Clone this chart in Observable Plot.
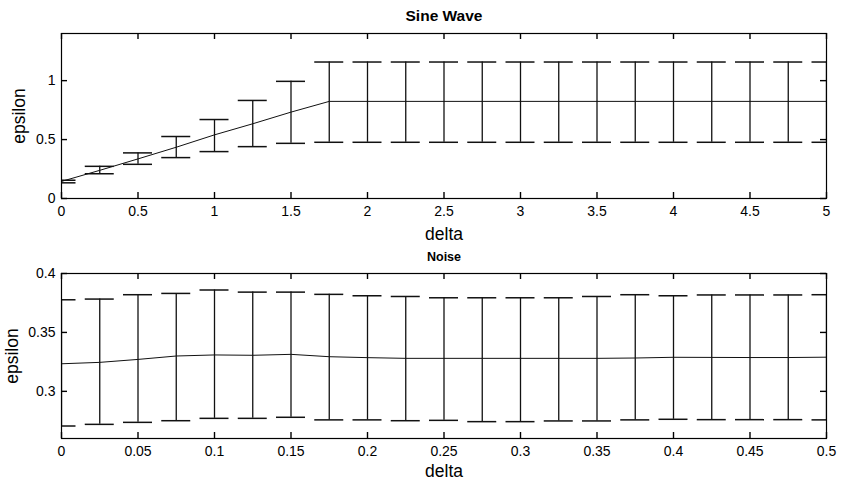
<!DOCTYPE html>
<html>
<head>
<meta charset="utf-8">
<script src="https://cdn.jsdelivr.net/npm/d3@7"></script>
<script src="https://cdn.jsdelivr.net/npm/@observablehq/plot@0.6"></script>
<style>
  html, body { margin: 0; padding: 0; background: #fff; }
  #chart svg { display: block; }
</style>
</head>
<body>
<div id="chart"></div>
<script>
// ---- Top panel: Sine Wave ----
const sineDelta = [0, 0.25, 0.5, 0.75, 1, 1.25, 1.5, 1.75, 2, 2.25, 2.5, 2.75, 3, 3.25, 3.5, 3.75, 4, 4.25, 4.5, 4.75, 5];
const sineMean  = [0.145, 0.239, 0.336, 0.435, 0.540, 0.634, 0.733, 0.824, 0.824, 0.824, 0.824, 0.824, 0.824, 0.824, 0.824, 0.824, 0.824, 0.824, 0.824, 0.824, 0.824];
const sineLow   = [0.133, 0.210, 0.290, 0.347, 0.398, 0.440, 0.468, 0.477, 0.477, 0.477, 0.477, 0.477, 0.477, 0.477, 0.477, 0.477, 0.477, 0.477, 0.477, 0.477, 0.477];
const sineHigh  = [0.155, 0.273, 0.387, 0.526, 0.670, 0.832, 0.994, 1.158, 1.158, 1.158, 1.158, 1.158, 1.158, 1.158, 1.158, 1.158, 1.158, 1.158, 1.158, 1.158, 1.158];
const sineXTicks = [0, 0.5, 1, 1.5, 2, 2.5, 3, 3.5, 4, 4.5, 5];
const sineYTicks = [0, 0.5, 1];

// ---- Bottom panel: Noise ----
const noiseDelta = [0, 0.025, 0.05, 0.075, 0.1, 0.125, 0.15, 0.175, 0.2, 0.225, 0.25, 0.275, 0.3, 0.325, 0.35, 0.375, 0.4, 0.425, 0.45, 0.475, 0.5];
const noiseMean  = [0.3234, 0.3246, 0.3271, 0.3300, 0.3309, 0.3306, 0.3314, 0.3294, 0.3286, 0.3280, 0.3280, 0.3280, 0.3280, 0.3280, 0.3280, 0.3283, 0.3289, 0.3288, 0.3287, 0.3287, 0.3290];
const noiseLow   = [0.2706, 0.2720, 0.2737, 0.2751, 0.2771, 0.2771, 0.2780, 0.2758, 0.2758, 0.2751, 0.2754, 0.2743, 0.2743, 0.2749, 0.2749, 0.2758, 0.2763, 0.2760, 0.2760, 0.2760, 0.2758];
const noiseHigh  = [0.3777, 0.3783, 0.3820, 0.3831, 0.3860, 0.3842, 0.3842, 0.3823, 0.3811, 0.3805, 0.3794, 0.3794, 0.3794, 0.3794, 0.3805, 0.3820, 0.3811, 0.3818, 0.3818, 0.3818, 0.3820];
const noiseXTicks = [0, 0.05, 0.1, 0.15, 0.2, 0.25, 0.3, 0.35, 0.4, 0.45, 0.5];
const noiseYTicks = [0.3, 0.35, 0.4];

const W = 841, ML = 61, MR = 15;
const FONT = "'Liberation Sans', Arial, Helvetica, sans-serif";
const INK = "#111";
const TICK = 6;

function panel(o) {
  const data = o.xs.map((x, i) => ({x, m: o.mean[i], lo: o.lo[i], hi: o.hi[i]}));
  const pw = W - ML - MR;
  const ph = o.height - o.marginTop - o.marginBottom;
  const [xa, xb] = o.xDomain, [ya, yb] = o.yDomain;
  const capHalf = 14.5 * (xb - xa) / pw;
  const tx = TICK * (xb - xa) / pw;   // tick length in x units
  const ty = TICK * (yb - ya) / ph;   // tick length in y units
  const tickStyle = {stroke: "#000", strokeWidth: 1.4};
  const xt = o.xTicks.map(v => ({v, a: ya, b: ya + ty, c: yb - ty, d: yb}));
  const yt = o.yTicks.map(v => ({v, a: xa, b: xa + tx, c: xb - tx, d: xb}));
  return Plot.plot({
    width: W, height: o.height,
    marginLeft: ML, marginRight: MR, marginTop: o.marginTop, marginBottom: o.marginBottom,
    style: {fontFamily: FONT, fontSize: "14px", color: "#000", background: "#fff", overflow: "visible"},
    x: {domain: o.xDomain, label: null},
    y: {domain: o.yDomain, label: null},
    marks: [
      Plot.ruleX(data, {x: "x", y1: "lo", y2: "hi", stroke: INK, strokeWidth: 1.3, clip: true}),
      Plot.ruleY(data, {y: "hi", x1: d => d.x - capHalf, x2: d => d.x + capHalf, stroke: INK, strokeWidth: 1.5, clip: true}),
      Plot.ruleY(data, {y: "lo", x1: d => d.x - capHalf, x2: d => d.x + capHalf, stroke: INK, strokeWidth: 1.5, clip: true}),
      Plot.line(data, {x: "x", y: "m", stroke: INK, strokeWidth: 1, clip: true}),
      // inward ticks on all four sides
      Plot.ruleX(xt, {x: "v", y1: "a", y2: "b", ...tickStyle}),
      Plot.ruleX(xt, {x: "v", y1: "c", y2: "d", ...tickStyle}),
      Plot.ruleY(yt, {y: "v", x1: "a", x2: "b", ...tickStyle}),
      Plot.ruleY(yt, {y: "v", x1: "c", x2: "d", ...tickStyle}),
      Plot.frame({stroke: "#000", strokeWidth: 1.2}),
      // tick labels
      Plot.axisX({ticks: o.xTicks, tickFormat: d => String(d), tickSize: 0, tickPadding: 8, anchor: "bottom", label: null, fontSize: 14}),
      Plot.axisY({ticks: o.yTicks, tickFormat: d => String(d), tickSize: 0, tickPadding: 6, anchor: "left", label: null, fontSize: 14}),
      // titles and axis labels
      Plot.text([o.title], {text: d => d, frameAnchor: "top", dy: o.titleDy, lineAnchor: "middle", textAnchor: "middle", fontWeight: "bold", fontSize: o.titleSize, fill: "#000"}),
      Plot.text(["delta"], {text: d => d, frameAnchor: "bottom", dy: o.xlabelDy, lineAnchor: "middle", textAnchor: "middle", fontSize: 17.5, fill: "#000"}),
      Plot.text(["epsilon"], {text: d => d, frameAnchor: "left", dx: o.ylabelDx, rotate: -90, lineAnchor: "middle", textAnchor: "middle", fontSize: 17.5, fill: "#000"})
    ]
  });
}

const topPanel = panel({
  xs: sineDelta, mean: sineMean, lo: sineLow, hi: sineHigh,
  xDomain: [0, 5], yDomain: [0, 1.4], xTicks: sineXTicks, yTicks: sineYTicks,
  title: "Sine Wave", titleSize: 15.5, titleDy: -17, xlabelDy: 36, ylabelDx: -42,
  height: 240, marginTop: 33, marginBottom: 42
});
const bottomPanel = panel({
  xs: noiseDelta, mean: noiseMean, lo: noiseLow, hi: noiseHigh,
  xDomain: [0, 0.5], yDomain: [0.26, 0.4], xTicks: noiseXTicks, yTicks: noiseYTicks,
  title: "Noise", titleSize: 12.5, titleDy: -17, xlabelDy: 33, ylabelDx: -49,
  height: 241, marginTop: 33, marginBottom: 43
});
const chart = document.getElementById("chart");
chart.appendChild(topPanel);
chart.appendChild(bottomPanel);
</script>
</body>
</html>
